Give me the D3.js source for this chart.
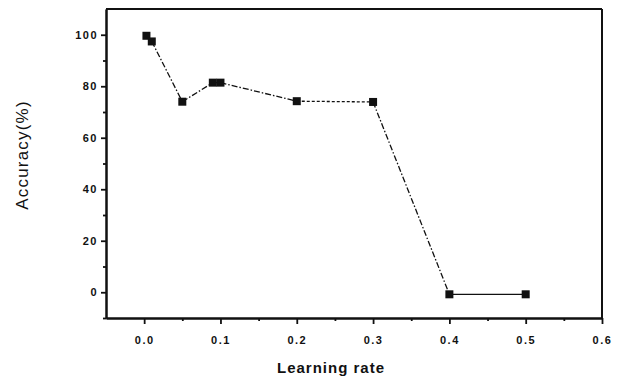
<!DOCTYPE html>
<html>
<head>
<meta charset="utf-8">
<script src="https://cdn.jsdelivr.net/npm/d3@7/dist/d3.min.js"></script>
<style>
  html, body { margin: 0; padding: 0; background: #fff; }
  svg { display: block; }
  .tick text { font-family: "Liberation Sans", Arial, sans-serif; font-weight: bold; font-size: 11px; fill: #111; }
</style>
</head>
<body>
<svg id="chart" width="620" height="377"></svg>
<script>
// ---- data ----
const learningRate = [0.003, 0.01, 0.05, 0.09, 0.1, 0.2, 0.3, 0.4, 0.5];
const accuracy     = [99.6, 97.4, 74.0, 81.4, 81.4, 74.2, 73.9, -0.8, -0.8];
const xTicks = [0.0, 0.1, 0.2, 0.3, 0.4, 0.5, 0.6];
const xMinorTicks = [0.05, 0.15, 0.25, 0.35, 0.45, 0.55];
const yTicks = [0, 20, 40, 60, 80, 100];
const yMinorTicks = [-10, 10, 30, 50, 70, 90];
const xTitle = "Learning rate";
const yTitle = "Accuracy(%)";

// ---- layout ----
const svg = d3.select("#chart");
const mLeft = 106, mRight = 602, mTop = 9, mBottom = 318;

const x = d3.scaleLinear().domain([-0.05, 0.6]).range([mLeft, mRight]);
const y = d3.scaleLinear().domain([-10, 110]).range([mBottom, mTop]);

// segment line styles (one per segment between consecutive points)
const segDash = ["2,2", "6,2,1.5,2", "6,2,1.5,2", "none", "6,2,1.5,2", "3,2", "6,2,1.5,2", "none"];

const g = svg.append("g");

// frame top & right
g.append("line").attr("x1", mLeft).attr("x2", mRight).attr("y1", mTop).attr("y2", mTop)
  .attr("stroke", "#111").attr("stroke-width", 2);
g.append("line").attr("x1", mRight).attr("x2", mRight).attr("y1", mTop).attr("y2", mBottom)
  .attr("stroke", "#111").attr("stroke-width", 2);

// x axis
const xAxis = g.append("g").attr("transform", `translate(0,${mBottom})`)
  .call(d3.axisBottom(x).tickValues(xTicks).tickFormat(d3.format(".1f")).tickSize(6).tickSizeOuter(0).tickPadding(12));
xAxis.selectAll(".tick text").style("letter-spacing", "1.5px");
g.append("g").attr("transform", `translate(0,${mBottom})`)
  .call(d3.axisBottom(x).tickValues(xMinorTicks).tickFormat("").tickSize(3).tickSizeOuter(0));

// y axis
const yAxis = g.append("g").attr("transform", `translate(${mLeft},0)`)
  .call(d3.axisLeft(y).tickValues(yTicks).tickSize(5).tickSizeOuter(0).tickPadding(3));
yAxis.selectAll(".tick text").style("letter-spacing", "1.5px");
g.append("g").attr("transform", `translate(${mLeft},0)`)
  .call(d3.axisLeft(y).tickValues(yMinorTicks).tickFormat("").tickSize(3).tickSizeOuter(0));

g.selectAll(".domain").attr("stroke", "#111").attr("stroke-width", 2);
g.selectAll(".tick line").attr("stroke", "#111").attr("stroke-width", 1.8);

// data segments
const pts = learningRate.map((v, i) => [v, accuracy[i]]);
const segs = d3.pairs(pts);
g.selectAll("line.seg").data(segs).enter().append("line")
  .attr("class", "seg")
  .attr("x1", d => x(d[0][0])).attr("y1", d => y(d[0][1]))
  .attr("x2", d => x(d[1][0])).attr("y2", d => y(d[1][1]))
  .attr("stroke", "#111").attr("stroke-width", 1.3)
  .attr("stroke-dasharray", (d, i) => segDash[i]);

// markers
const ms = 8;
g.selectAll("rect.pt").data(pts).enter().append("rect")
  .attr("class", "pt")
  .attr("x", d => x(d[0]) - ms / 2).attr("y", d => y(d[1]) - ms / 2)
  .attr("width", ms).attr("height", ms).attr("fill", "#111");

// titles
svg.append("text").attr("x", 331).attr("y", 373).attr("text-anchor", "middle")
  .style("font-family", "'Liberation Sans', Arial, sans-serif").style("font-weight", "bold")
  .style("font-size", "15px").style("letter-spacing", "1px").attr("fill", "#111").text(xTitle);
svg.append("text").attr("transform", "translate(28,155) rotate(-90)").attr("text-anchor", "middle")
  .style("font-family", "'Liberation Sans', Arial, sans-serif")
  .style("font-size", "17px").style("letter-spacing", "1.2px").attr("fill", "#111").text(yTitle);
</script>
</body>
</html>
